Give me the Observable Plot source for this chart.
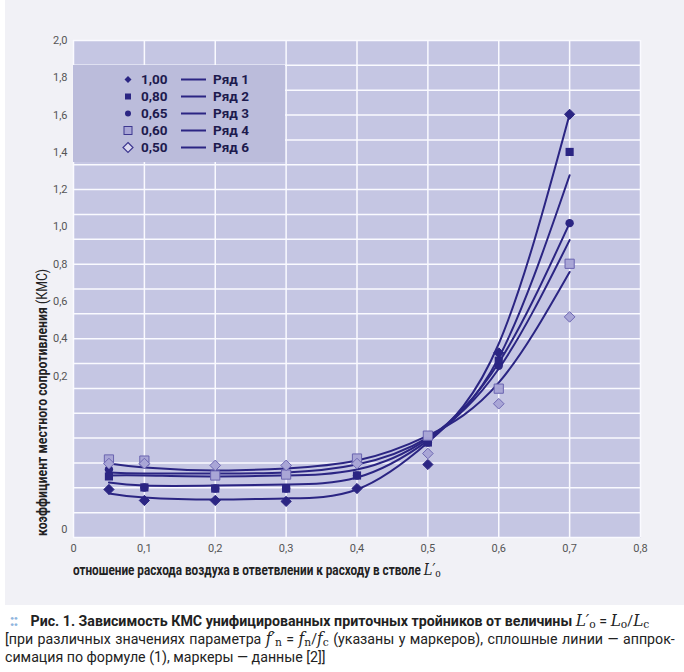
<!DOCTYPE html>
<html><head><meta charset="utf-8">
<script src="https://cdn.jsdelivr.net/npm/d3@7"></script>
<script src="https://cdn.jsdelivr.net/npm/@observablehq/plot@0.6"></script>
<style>
body{margin:0;background:#fff;}
#wrap{position:relative;width:684px;height:672px;font-family:Roboto,"Noto Sans",sans-serif;overflow:hidden;}
#chart{position:absolute;left:0;top:0;}
#chart svg{background:linear-gradient(to right,#fff 5px,#f1f1f6 5px);}
#legend{position:absolute;left:73px;top:65px;width:212px;height:97px;background:#bbbcdb;}
.lrow{position:absolute;left:0;height:17px;width:212px;font-weight:bold;font-size:13.5px;color:#1d1a4e;}
.lrow svg{position:absolute;top:0;}
.lrow .v{position:absolute;left:68px;top:0;line-height:17px;}
.lrow .n{position:absolute;left:140px;top:0;line-height:17px;}
#xtitle{position:absolute;left:73px;top:560px;font-weight:bold;font-size:14.5px;color:#222;white-space:nowrap;transform:scaleX(0.81);transform-origin:0 0;}
#ytitle{position:absolute;left:34px;top:536px;line-height:16px;font-size:14px;color:#222;white-space:nowrap;transform:rotate(-90deg) scaleX(0.88);transform-origin:0 0;}
.m{font-family:"DejaVu Serif","Liberation Serif",serif;font-style:italic;font-weight:normal;}
.m sub{font-style:normal;font-size:70%;vertical-align:-0.2em;line-height:0;}
#caption .m{font-size:1.08em;line-height:0;}
#caption{position:absolute;left:5px;top:612px;width:708px;font-size:15px;color:#222;line-height:18px;transform:scaleX(0.946);transform-origin:0 0;}
#caption .l1{padding-left:27px;position:relative;white-space:nowrap;}
#caption .dots{position:absolute;left:5px;top:-1px;color:#8fb5de;font-weight:900;font-size:17px;letter-spacing:-1px;}
#caption .l2{text-align:justify;text-align-last:justify;}
</style></head>
<body><div id="wrap">
<div id="chart"></div>
<div id="legend"></div>
<div id="ytitle"><b>коэффициент местного сопротивления</b> (КМС)</div>
<div id="xtitle">отношение расхода воздуха в ответвлении к расходу в стволе <span class="m" style="font-size:16px">L′<sub>o</sub></span></div>
<div id="caption">
<div class="l1"><span class="dots">::</span><b>Рис. 1. Зависимость КМС унифицированных приточных тройников от величины</b> <span class="m">L′<sub>o</sub></span> = <span class="m">L<sub>o</sub></span>/<span class="m">L<sub>c</sub></span></div>
<div class="l2">[при различных значениях параметра <span class="m">f′<sub>n</sub></span> = <span class="m">f<sub>n</sub></span>/<span class="m">f<sub>c</sub></span> (указаны у маркеров), сплошные линии — аппрок-</div>
<div>симация по формуле (1), маркеры — данные [2]]</div>
</div>
</div>
<script>
// ---- data ----
const xValues = [0.05, 0.1, 0.2, 0.3, 0.4, 0.5, 0.6, 0.7];
const paramLabels = ["1,00", "0,80", "0,65", "0,60", "0,50"];
const seriesNames = ["Ряд 1", "Ряд 2", "Ряд 3", "Ряд 4", "Ряд 6"];
// markers (data [2])
const marker100 = [-0.409, -0.468, -0.468, -0.473, -0.404, -0.275, 0.324, 1.604];
const marker080 = [-0.339, -0.398, -0.404, -0.404, -0.334, -0.157, 0.282, 1.402];
const marker065 = [-0.302, -0.398, -0.404, -0.404, -0.334, -0.157, 0.255, 1.020];
const marker060 = [-0.248, -0.254, -0.334, -0.329, -0.243, -0.120, 0.132, 0.802];
const marker050 = [-0.270, -0.270, -0.280, -0.280, -0.270, -0.216, 0.051, 0.517];
// approximation curves (formula (1))
const curve100 = [-0.430, -0.452, -0.463, -0.457, -0.409, -0.157, 0.373, 1.604];
const curve080 = [-0.372, -0.388, -0.388, -0.382, -0.345, -0.147, 0.298, 1.277];
const curve065 = [-0.334, -0.334, -0.339, -0.334, -0.302, -0.136, 0.271, 1.020];
const curve060 = [-0.318, -0.323, -0.323, -0.318, -0.275, -0.131, 0.239, 0.929];
const curve050 = [-0.270, -0.291, -0.307, -0.296, -0.254, -0.120, 0.164, 0.758];
const xTicks = [0, 0.1, 0.2, 0.3, 0.4, 0.5, 0.6, 0.7, 0.8];
const yTickValues = [2.0, 1.8, 1.6, 1.4, 1.2, 1.0, 0.8, 0.6, 0.4, 0.2];
const yMin = -2 / 3, yMax = 2.0;

const dark = "#2b2583", light = "#a9a6d6";
const curveSets = [curve100, curve080, curve065, curve060, curve050];
const pts = (arr, i) => arr.map((y, k) => ({x: xValues[k], y, s: i}));
const curves = curveSets.flatMap((c, i) => pts(c, i));
const fmt = d => d.toFixed(1).replace(".", ",");
const fmtX = d => d === 0 ? "0" : fmt(d);
const gridY = d3.range(21).map(i => yMin + i * (yMax - yMin) / 20);

const plot = Plot.plot({
  width: 684, height: 605,
  marginTop: 40, marginBottom: 68, marginLeft: 73, marginRight: 44,
  style: {fontFamily: 'Roboto,"Noto Sans",sans-serif', fontSize: "11px", color: "#555"},
  x: {domain: [0, 0.8]},
  y: {domain: [yMin, yMax]},
  marks: [
    Plot.frame({fill: "#c5c6e3", stroke: null}),
    Plot.ruleY(gridY, {stroke: "#fafaff", strokeWidth: 1.5}),
    Plot.ruleX(xTicks, {stroke: "#fafaff", strokeWidth: 1.5}),
    Plot.axisX(xTicks, {tickSize: 0, tickPadding: 7, tickFormat: fmtX, label: null}),
    Plot.axisY(yTickValues, {tickSize: 0, tickPadding: 6, tickFormat: fmt, label: null}),
    Plot.axisY([yMin], {tickSize: 0, tickPadding: 6, tickFormat: () => "0", label: null, dy: -8}),
    Plot.line(curves, {x: "x", y: "y", z: "s", stroke: dark, strokeWidth: 2, curve: "natural"}),
    Plot.dot(pts(marker065, 2), {x: "x", y: "y", symbol: "circle", r: 4.2, fill: dark}),
    Plot.dot(pts(marker100, 0), {x: "x", y: "y", symbol: "diamond2", r: 4.6, fill: dark, stroke: dark, strokeWidth: 1}),
    Plot.dot(pts(marker080, 1), {x: "x", y: "y", symbol: "square", r: 4.6, fill: dark}),
    Plot.dot(pts(marker060, 3), {x: "x", y: "y", symbol: "square", r: 5.2, fill: light, stroke: "#6a64b0", strokeWidth: 1}),
    Plot.dot(pts(marker050, 4), {x: "x", y: "y", symbol: "diamond2", r: 4.8, fill: light, stroke: "#6f69b4", strokeWidth: 1})
  ]
});
document.getElementById("chart").appendChild(plot);

// legend (HTML)
const legendSym = [
  '<path d="M0,-3.5L3.5,0L0,3.5L-3.5,0Z" fill="'+dark+'"/>',
  '<rect x="-3" y="-3" width="6" height="6" fill="'+dark+'"/>',
  '<circle r="3" fill="'+dark+'"/>',
  '<rect x="-4" y="-4" width="8" height="8" fill="'+light+'" stroke="#3d3790" stroke-width="1"/>',
  '<path d="M0,-5L5,0L0,5L-5,0Z" fill="#dcdaf0" stroke="#3d3790" stroke-width="1.2"/>'
];
const lg = d3.select("#legend");
paramLabels.forEach((p, i) => {
  const row = lg.append("div").attr("class", "lrow").style("top", (6 + i * 17) + "px");
  row.append("svg").attr("width", 14).attr("height", 17).style("left", "48px")
    .html('<g transform="translate(7,8.5)">' + legendSym[i] + '</g>');
  row.append("span").attr("class", "v").text(p);
  row.append("svg").attr("width", 26).attr("height", 17).style("left", "108px")
    .html('<line x1="0" x2="25" y1="8.5" y2="8.5" stroke="'+dark+'" stroke-width="2"/>');
  row.append("span").attr("class", "n").text(seriesNames[i]);
});
</script>
</body></html>
